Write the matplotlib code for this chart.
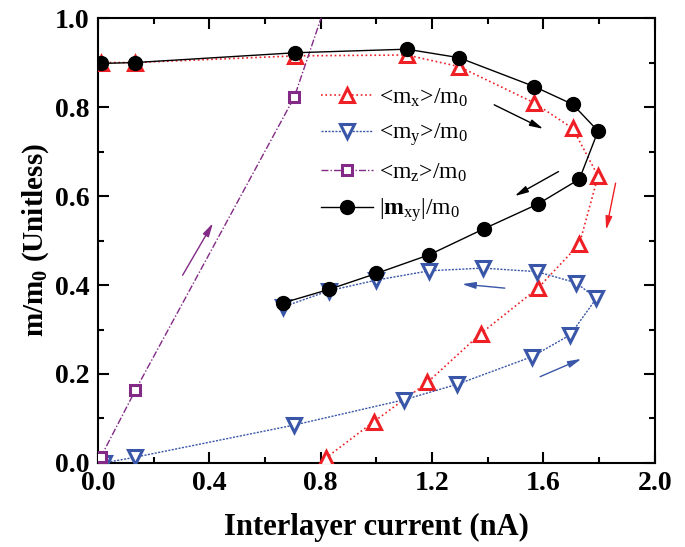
import matplotlib
matplotlib.use("Agg")
import matplotlib.pyplot as plt
from matplotlib.ticker import MultipleLocator

plt.rcParams['font.family'] = 'Liberation Serif'
plt.rcParams['mathtext.fontset'] = 'custom'
plt.rcParams['mathtext.rm'] = 'Liberation Serif'
plt.rcParams['mathtext.it'] = 'Liberation Serif:italic'
plt.rcParams['mathtext.bf'] = 'Liberation Serif:bold'

# <m_x>/m_0
mx_i = [0.01, 0.134, 0.708, 1.109, 1.296, 1.565, 1.705, 1.796, 1.729, 1.58, 1.375, 1.183, 0.991, 0.82]
mx_v = [0.90, 0.90, 0.915, 0.917, 0.891, 0.81, 0.752, 0.645, 0.492, 0.393, 0.291, 0.181, 0.093, 0.012]

# <m_y>/m_0
my_i = [0.02, 0.134, 0.703, 1.099, 1.291, 1.559, 1.696, 1.79, 1.717, 1.576, 1.383, 1.19, 1.0, 0.829, 0.666]
my_v = [0.0, 0.013, 0.085, 0.142, 0.177, 0.239, 0.288, 0.37, 0.405, 0.43, 0.438, 0.432, 0.411, 0.387, 0.351]

# <m_z>/m_0 (last point lies above the frame)
mz_i = [0.01, 0.134, 0.705, 0.85]
mz_v = [0.013, 0.163, 0.822, 1.09]

# |m_xy|/m_0
mxy_i = [0.01, 0.134, 0.708, 1.109, 1.296, 1.567, 1.705, 1.796, 1.729, 1.58, 1.385, 1.19, 1.0, 0.829, 0.666]
mxy_v = [0.898, 0.90, 0.922, 0.93, 0.911, 0.846, 0.806, 0.746, 0.638, 0.582, 0.526, 0.468, 0.426, 0.39, 0.36]

red = '#ee2026'
blue = '#3a56a8'
purple = '#822a86'

fig = plt.figure(figsize=(6.85, 5.47), dpi=100)
ax = fig.add_axes([0.143, 0.1536, 0.813, 0.8134])

ax.plot(mx_i, mx_v, ls=':', color=red, lw=1.2, marker='^', ms=9.5, mfc='white',
        mec=red, mew=2.2, label=r'<m$_\mathregular{x}$>/m$_\mathregular{0}$', zorder=3)
ax.plot(my_i, my_v, ls=(0, (1.5, 1)), color=blue, lw=1.0, marker='v', ms=9.5, mfc='white',
        mec=blue, mew=2.2, label=r'<m$_\mathregular{y}$>/m$_\mathregular{0}$', zorder=3)
ax.plot(mz_i, mz_v, ls=(0, (5, 1.5, 1, 1.5)), color=purple, lw=1.0, marker='s', ms=6.5,
        mfc='white', mec=purple, mew=2.2, label=r'<m$_\mathregular{z}$>/m$_\mathregular{0}$', zorder=3)
ax.plot(mxy_i, mxy_v, ls='-', color='black', lw=1.0, marker='o', ms=10,
        label=r'|$\mathbf{m}_\mathregular{xy}$|/m$_\mathregular{0}$', zorder=4)

# direction arrows
arrows = [((1.423, 0.805), (1.599, 0.751), 'black'),
          ((1.654, 0.655), (1.497, 0.600), 'black'),
          ((1.859, 0.629), (1.825, 0.524), red),
          ((1.461, 0.393), (1.308, 0.402), blue),
          ((1.588, 0.194), (1.736, 0.234), blue),
          ((0.304, 0.422), (0.413, 0.539), purple)]
for start, end, c in arrows:
    ax.annotate('', xy=end, xytext=start,
                arrowprops=dict(arrowstyle='-|>,head_length=0.8,head_width=0.2',
                                color=c, lw=1.0, shrinkA=0, shrinkB=0))

ax.set_xlim(0, 2.0)
ax.set_ylim(0, 1.0)
ax.xaxis.set_major_locator(MultipleLocator(0.4))
ax.xaxis.set_minor_locator(MultipleLocator(0.2))
ax.yaxis.set_major_locator(MultipleLocator(0.2))
ax.yaxis.set_minor_locator(MultipleLocator(0.1))
ax.xaxis.set_major_formatter(plt.FormatStrFormatter('%.1f'))
ax.yaxis.set_major_formatter(plt.FormatStrFormatter('%.1f'))
ax.tick_params(which='both', direction='in', top=True, right=True, width=1.5)
ax.tick_params(which='major', length=8, labelsize=20, pad=6)
ax.tick_params(which='minor', length=4)
for lbl in ax.get_xticklabels() + ax.get_yticklabels():
    lbl.set_fontweight('bold')
for s in ax.spines.values():
    s.set_linewidth(1.5)

ax.set_xlabel('Interlayer current (nA)', fontsize=22, fontweight='bold', labelpad=12)
ax.set_ylabel(r'm/m$_\mathbf{0}$ (Unitless)', fontsize=21, fontweight='bold', labelpad=3)

ax.legend(loc='upper left', bbox_to_anchor=(0.384, 0.868), frameon=False, fontsize=17,
          handlelength=2.2, handletextpad=0.25, labelspacing=0.55, borderaxespad=0)

fig.savefig('out.png', dpi=100)
